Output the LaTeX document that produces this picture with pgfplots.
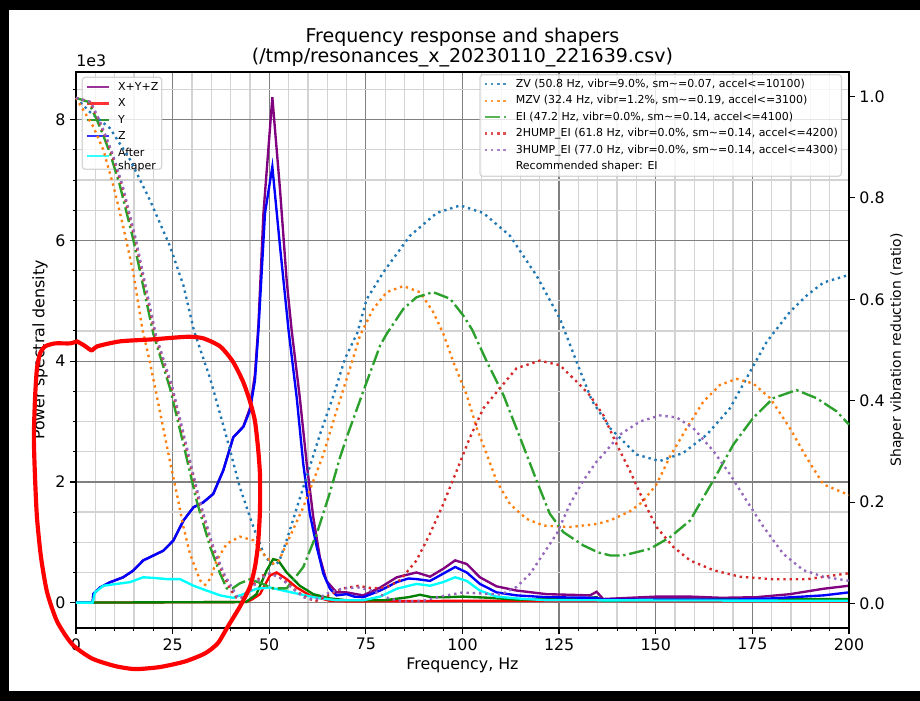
\documentclass[border=0pt]{standalone}
\usepackage{pgfplots}
\pgfplotsset{compat=1.18}
\usepackage{fontspec}
\setmainfont{DejaVu Sans}
\definecolor{tabblue}{HTML}{1F77B4}
\definecolor{taborange}{HTML}{FF7F0E}
\definecolor{tabgreen}{HTML}{2CA02C}
\definecolor{tabred}{HTML}{D62728}
\definecolor{tabpurple}{HTML}{9467BD}
\definecolor{mplpurple}{HTML}{800080}
\definecolor{mplgreen}{HTML}{008000}
\definecolor{mplcyan}{HTML}{00FFFF}
\definecolor{mplred}{HTML}{FF0000}
\definecolor{mplblue}{HTML}{0000FF}
\definecolor{mplgrey}{HTML}{808080}
\definecolor{mpllightgrey}{HTML}{D3D3D3}
\definecolor{legframe}{HTML}{CCCCCC}
\newcommand{\lst}{\rule[-1.9pt]{0pt}{8.1pt}}
\pgfplotsset{
  mybase/.style={
    at={(54.72pt,52.56pt)}, anchor=south west, scale only axis,
    width=556.56pt, height=400.32pt,
    xmin=0, xmax=200,
    tick label style={font=\fontsize{11.4}{13}\selectfont},
    label style={font=\fontsize{11.4}{13}\selectfont},
    /pgf/number format/assume math mode=true,
    axis line style={line width=0.9pt},
    major tick length=4pt, minor tick length=2.3pt,
    tick style={black, line width=0.9pt},
    minor tick style={black, line width=0.7pt},
    tick align=outside,
  },
  myleg/.style={
    draw=legframe, fill=white, fill opacity=0.8, draw opacity=0.8, text opacity=1,
    rounded corners=2pt, font=\fontsize{7.9}{9.2}\selectfont,
    nodes={inner sep=0pt}, row sep=4.17pt, column sep=5.8pt,
    inner xsep=2.5pt, inner ysep=3pt, line width=0.9pt,
  },
  dotted mpl/.style={line width=1.7pt, dash pattern=on 1.7pt off 2.8pt},
  dashdot mpl/.style={line width=1.7pt, dash pattern=on 10.9pt off 2.7pt on 1.7pt off 2.7pt},
  psd/.style={line width=1.7pt},
  legend image code/.code={\draw[#1] (0pt,0pt) -- (15.8pt,0pt);},
}
\begin{document}
\begin{tikzpicture}
\fill[black] (0,0) rectangle (662.4pt,504.72pt);
\fill[white] (6.48pt,7.2pt) rectangle (662.4pt,497.52pt);
\useasboundingbox (0,0) rectangle (662.4pt,504.72pt);

\begin{axis}[mybase,
  ymin=-0.42, ymax=8.79,
  xtick={0,25,...,200}, minor xtick={0,5,...,200},
  ytick={0,2,4,6,8}, minor ytick={0.5,1,...,8.5},
  tick pos=left,
  grid=both,
  major grid style={mplgrey, line width=0.9pt},
  minor grid style={mpllightgrey, line width=0.9pt},
  xlabel={Frequency, Hz},
  ylabel={Power spectral density},
  xlabel style={at={(axis description cs:0.5,0)}, anchor=center, yshift=-26.6pt},
  ylabel style={at={(axis description cs:0,0.5)}, anchor=center, yshift=25.9pt},
  title={Frequency response and shapers\\(/tmp/resonances\_x\_20230110\_221639.csv)},
  title style={font=\fontsize{13.7}{14.5}\selectfont, align=center, inner sep=0pt, yshift=-2.8pt},
  legend style={myleg, at={(0,1)}, anchor=north west, xshift=4.1pt, yshift=-3.4pt},
  legend cell align=left,
]
% X+Y+Z
\addplot[mplpurple, psd] coordinates {
(0,0) (4.3,0) (4.5,0.145) (6.2,0.25) (8.8,0.337) (12.2,0.42) (14.8,0.53) (17.4,0.70) (20,0.78) (22.6,0.86) (25.2,1.03) (27.8,1.36) (30.4,1.58) (32.9,1.66) (35.5,1.80) (38.1,2.19) (40.7,2.74) (43.3,2.92) (45,3.22) (46.3,3.78) (47.2,4.6) (48.5,6.45) (50.8,8.37) (52.8,6.83) (54.5,5.34) (55.8,4.51) (57.9,3.40) (59.7,2.30) (61.4,1.41) (63.1,0.75) (64.8,0.36) (67.4,0.17) (70,0.17) (74.3,0.12) (78.7,0.25) (83,0.42) (88.1,0.50) (91.6,0.43) (95,0.56) (98.1,0.70) (101.1,0.64) (104.5,0.42) (108.8,0.27) (114,0.20) (121.8,0.14) (127.8,0.13) (133,0.12) (134.7,0.18) (136.4,0.06) (150.2,0.10) (158.9,0.10) (167,0.08) (176,0.09) (184.7,0.14) (193.4,0.23) (200,0.28)};
\addlegendentry{X+Y+Z\lst}
% X
\addplot[mplred, psd] coordinates {
(0,0) (44,0.01) (45.5,0.05) (47.6,0.14) (50.2,0.45) (51.9,0.50) (54.5,0.39) (57.1,0.25) (60.5,0.12) (65.7,0.03) (70,0.02) (100,0.03) (200,0.02)};
\addlegendentry{X\lst}
% Y
\addplot[mplgreen, psd] coordinates {
(0,0) (44,0.01) (46.7,0.14) (49.3,0.53) (51,0.72) (52.3,0.70) (54.5,0.50) (57.9,0.28) (61.4,0.14) (65.7,0.07) (70,0.04) (80,0.04) (86,0.09) (89,0.13) (92,0.09) (96,0.09) (100,0.1) (107,0.08) (114,0.05) (130,0.06) (134.7,0.09) (136.4,0.03) (150,0.05) (200,0.06)};
\addlegendentry{Y\lst}
% Z
\addplot[mplblue, psd] coordinates {
(0,0) (4.3,0) (4.5,0.145) (6.2,0.25) (8.8,0.337) (12.2,0.42) (14.8,0.53) (17.4,0.70) (20,0.78) (22.6,0.86) (25.2,1.03) (27.8,1.36) (30.4,1.58) (32.9,1.66) (35.5,1.80) (38.1,2.19) (40.7,2.74) (43.3,2.91) (45,3.18) (46.3,3.68) (47.2,4.51) (48.9,6.45) (50.8,7.22) (52.8,5.89) (55,4.51) (57.1,3.40) (58.8,2.30) (60.5,1.47) (62.3,0.92) (64,0.48) (65.7,0.23) (67.4,0.12) (70,0.14) (72,0.1) (74.3,0.09) (78.7,0.2) (83,0.34) (86,0.40) (88.1,0.39) (91.6,0.36) (95,0.48) (98.1,0.59) (101.1,0.50) (104.5,0.31) (108.8,0.17) (114,0.12) (121.8,0.09) (134.7,0.08) (136,0.05) (150,0.05) (170,0.05) (180,0.07) (193.4,0.12) (200,0.17)};
\addlegendentry{Z\lst}
% After shaper
\addplot[mplcyan, psd] coordinates {
(0,0) (4.3,0) (4.9,0.17) (7.1,0.28) (10.5,0.31) (14,0.34) (17.4,0.42) (20,0.41) (23.5,0.39) (26.9,0.39) (30.4,0.28) (33.8,0.20) (37.3,0.12) (40.7,0.08) (43.3,0.14) (46.7,0.23) (50.2,0.25) (53.6,0.20) (57.9,0.14) (62.3,0.08) (67.4,0.04) (74.3,0.04) (78.7,0.10) (83,0.23) (88.1,0.31) (91.6,0.28) (95,0.34) (98.1,0.42) (101.1,0.36) (104.5,0.20) (108.8,0.10) (114,0.07) (121.8,0.04) (200,0.03)};
\addlegendentry{\begin{tabular}{@{}l@{}}After\\shaper\end{tabular}}
\end{axis}
\node[anchor=base west, inner sep=0pt, font=\fontsize{11.4}{13}\selectfont] at (54.72pt,456.5pt) {1e3};

\begin{axis}[mybase,
  ymin=-0.048, ymax=1.048,
  axis x line=none, axis y line*=right,
  ytick={0,0.2,0.4,0.6,0.8,1.0},
  yticklabel style={/pgf/number format/fixed, /pgf/number format/precision=1, /pgf/number format/fixed zerofill},
  ylabel={Shaper vibration reduction (ratio)},
  every axis y label/.style={at={(axis description cs:1,0.5)}, rotate=90, anchor=center, yshift=-34.6pt},
  clip=false,
  legend style={myleg, at={(1,1)}, anchor=north east, xshift=-5pt, yshift=-1.5pt},
  legend cell align=left,
]
% ZV
\addplot[tabblue, dotted mpl] coordinates {
(0,0.997) (3.6,0.969) (8.8,0.937) (14,0.875) (19.1,0.796) (24.3,0.705) (27.8,0.627) (30.6,0.536) (34.7,0.444) (39,0.327) (42.4,0.229) (45.9,0.151) (48.9,0.092) (51.2,0.076) (52.5,0.082) (54.5,0.125) (58.8,0.229) (63.1,0.333) (66.6,0.41) (69.6,0.483) (72.8,0.534) (75.2,0.6) (79.5,0.653) (86.4,0.725) (93.3,0.770) (99.4,0.785) (105.4,0.770) (112.3,0.725) (119.2,0.646) (125.2,0.562) (129.5,0.477) (133.5,0.400) (138.2,0.346) (145,0.294) (151,0.281) (157.1,0.297) (163.2,0.333) (169.2,0.385) (174.4,0.457) (178.7,0.516) (184.7,0.575) (189,0.607) (193.4,0.633) (200,0.648)};
\addlegendentry{ZV (50.8 Hz, vibr=9.0\%, sm\textasciitilde=0.07, accel<=10100)\lst}
% MZV
\addplot[taborange, dotted mpl] coordinates {
(0,0.997) (4.5,0.94) (7.1,0.894) (9.7,0.823) (12.2,0.744) (14.8,0.653) (17.2,0.54) (19.1,0.477) (21.7,0.379) (24.3,0.281) (26.1,0.216) (27.8,0.151) (29.5,0.098) (32.1,0.046) (33.4,0.037) (34.8,0.05) (36.4,0.085) (39,0.118) (42.4,0.132) (45.8,0.125) (48.5,0.098) (51,0.079) (52.5,0.085) (54.5,0.118) (58.8,0.19) (64,0.294) (67,0.37) (70.9,0.464) (73.5,0.529) (76.9,0.581) (80.4,0.614) (84.7,0.626) (89,0.614) (92.4,0.575) (95,0.533) (97.6,0.477) (101.1,0.411) (103.7,0.346) (106.3,0.294) (108.8,0.242) (112.3,0.196) (116.6,0.167) (120.9,0.154) (127.8,0.151) (134.7,0.157) (138.2,0.164) (143.3,0.182) (146.5,0.200) (150.2,0.235) (153.7,0.290) (158,0.346) (162.3,0.398) (166.6,0.431) (170.9,0.443) (175.2,0.434) (179.6,0.405) (184.7,0.346) (189,0.288) (193.4,0.235) (200,0.214)};
\addlegendentry{MZV (32.4 Hz, vibr=1.2\%, sm\textasciitilde=0.19, accel<=3100)\lst}
% EI
\addplot[tabgreen, dashdot mpl] coordinates {
(0,0.997) (3.2,0.989) (5.4,0.954) (7.1,0.922) (8.8,0.888) (11.4,0.823) (14.8,0.718) (20,0.532) (24.3,0.425) (27.8,0.314) (31.2,0.203) (34.7,0.112) (37.3,0.059) (39,0.03) (40.5,0.03) (42.4,0.04) (45,0.048) (48,0.04) (51,0.03) (54.5,0.03) (58.8,0.072) (62.3,0.138) (65.7,0.219) (68.3,0.288) (70,0.327) (74.3,0.418) (78.7,0.509) (80.4,0.532) (84.7,0.581) (88.1,0.604) (92.4,0.614) (96.8,0.601) (100.2,0.568) (102.5,0.54) (106.3,0.477) (110.6,0.411) (114.9,0.327) (119.2,0.242) (122.6,0.177) (126.1,0.141) (131.2,0.115) (135.1,0.101) (138.2,0.095) (141.6,0.095) (148.5,0.108) (153.7,0.131) (158.9,0.164) (162.3,0.209) (165.8,0.255) (170.1,0.314) (175.2,0.366) (180.4,0.405) (186.4,0.421) (191.6,0.405) (196.8,0.379) (200,0.353)};
\addlegendentry{EI (47.2 Hz, vibr=0.0\%, sm\textasciitilde=0.14, accel<=4100)\lst}
% 2HUMP_EI
\addplot[tabred, dotted mpl] coordinates {
(0,0.997) (3.6,0.989) (5.8,0.954) (7.5,0.922) (9.2,0.888) (11.9,0.823) (15.3,0.718) (20.5,0.529) (24.8,0.425) (28.3,0.314) (31.8,0.203) (35.3,0.112) (38,0.059) (40,0.027) (41.5,0.012) (43,0.012) (45,0.03) (48,0.055) (51,0.06) (54,0.045) (57,0.025) (60,0.01) (62,0.005) (65,0.015) (69,0.03) (73,0.035) (77,0.03) (80.5,0.033) (83.8,0.046) (88.1,0.085) (91.6,0.138) (95,0.196) (98.5,0.262) (101.9,0.327) (105.4,0.385) (109.7,0.425) (114,0.464) (120,0.479) (125.2,0.470) (130.4,0.431) (133,0.41) (136.4,0.372) (139.9,0.314) (143.3,0.262) (146.8,0.203) (150.2,0.151) (154.5,0.112) (158.9,0.085) (164.9,0.066) (171.8,0.053) (180.4,0.048) (189,0.048) (200,0.060)};
\addlegendentry{2HUMP\_EI (61.8 Hz, vibr=0.0\%, sm\textasciitilde=0.14, accel<=4200)\lst}
% 3HUMP_EI
\addplot[tabpurple, dotted mpl] coordinates {
(0,0.997) (3.8,0.989) (6,0.954) (7.7,0.922) (9.4,0.888) (12.1,0.823) (15.5,0.718) (20.7,0.529) (25,0.425) (28.5,0.314) (32,0.203) (35.5,0.112) (38.3,0.059) (40.5,0.03) (42,0.01) (44,0.015) (47,0.045) (50,0.06) (53,0.05) (56,0.03) (59,0.012) (62,0.008) (65,0.02) (69,0.03) (73,0.032) (77,0.025) (81,0.01) (85,0.004) (90,0.006) (95,0.015) (100,0.022) (105,0.02) (110,0.018) (114,0.033) (117.5,0.059) (120.9,0.098) (124.4,0.138) (127.8,0.196) (131.2,0.242) (134.7,0.28) (136.4,0.294) (140.7,0.333) (145.9,0.359) (151.1,0.371) (155.4,0.367) (159.7,0.346) (164.9,0.301) (169.2,0.255) (173.5,0.203) (177.9,0.151) (183,0.098) (188.2,0.066) (193.4,0.053) (200,0.045)};
\addlegendentry{3HUMP\_EI (77.0 Hz, vibr=0.0\%, sm\textasciitilde=0.14, accel<=4300)\lst}
\addlegendimage{empty legend}
\addlegendentry{Recommended shaper: EI\lst}
% hand-drawn red annotation loop
\addplot[mplred, line width=3pt, line join=round, line cap=round, smooth, tension=0.4, forget plot] coordinates {
(0.26,0.517) (2.1,0.509) (4.1,0.499) (5.4,0.507) (11.4,0.517) (19.9,0.521) (28.7,0.526) (32.9,0.523) (37.3,0.507) (40.6,0.477) (43.2,0.438) (45,0.399) (46.3,0.360) (47.1,0.307) (47.6,0.254) (47.6,0.184) (47.1,0.117) (46.3,0.072) (45,0.033) (42.4,-0.006) (39.3,-0.045) (36.7,-0.078) (33.4,-0.098) (28.2,-0.114) (21.7,-0.125) (15.3,-0.129) (10.1,-0.123) (4.1,-0.108) (-1.0,-0.080) (-4.9,-0.035) (-7.5,0.023) (-9.06,0.092) (-10.1,0.170) (-10.6,0.249) (-10.9,0.327) (-10.6,0.405) (-10.1,0.464) (-9.3,0.493) (-8.0,0.507) (-5.43,0.513) (-1.55,0.513) (0.26,0.517)};
\end{axis}
\end{tikzpicture}
\end{document}
